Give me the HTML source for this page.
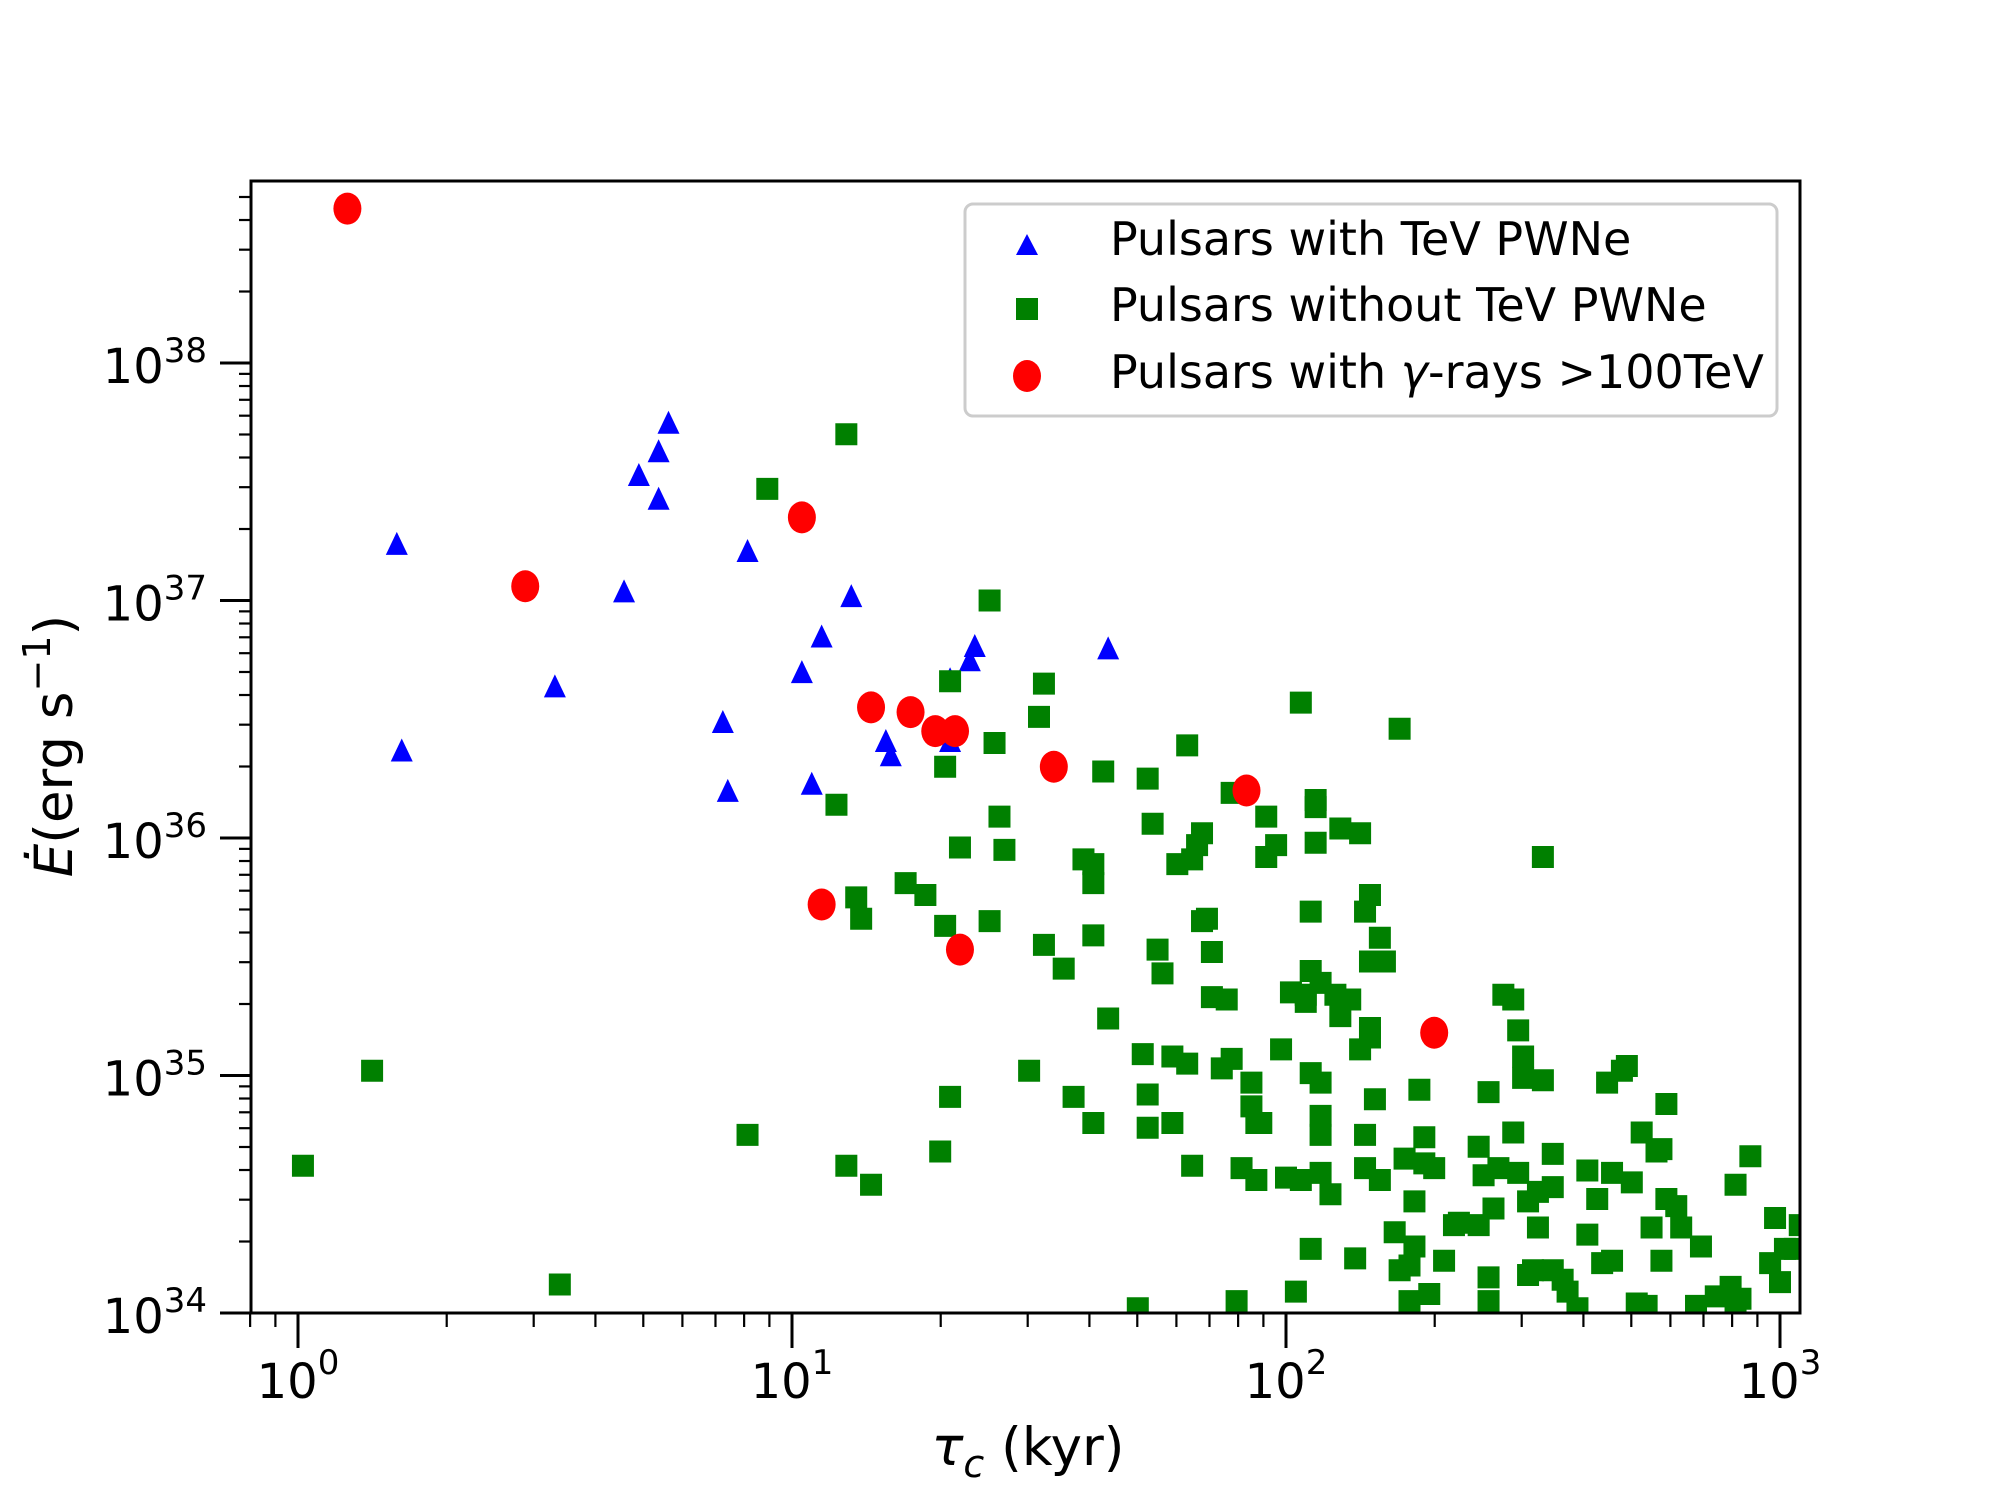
<!DOCTYPE html>
<html><head><meta charset="utf-8"><style>
html,body{margin:0;padding:0;background:#fff;}
svg{display:block;font-family:"DejaVu Sans","Liberation Sans",sans-serif;}
</style></head><body>
<svg id="chart" width="2000" height="1500" viewBox="0 0 2000 1500" xmlns="http://www.w3.org/2000/svg">
<rect width="2000" height="1500" fill="#fff"/>
<g id="ticks"></g>
<g id="marks"></g>
<rect x="251" y="181" width="1549" height="1132" fill="none" stroke="#000" stroke-width="3"/>
<g>
<rect x="965" y="204" width="812" height="212" rx="8" fill="#fff" fill-opacity="0.8" stroke="#ccc" stroke-width="3"/>
<polygon points="1027,234 1016,255 1038,255" fill="#0000ff"/>
<text x="1110" y="255" font-size="46">Pulsars with TeV PWNe</text>
<rect x="1016" y="298" width="22" height="22" fill="#008000"/>
<text x="1110" y="321" font-size="46">Pulsars without TeV PWNe</text>
<ellipse cx="1027" cy="376" rx="14" ry="16" fill="#ff0000"/>
<text x="1110" y="388" font-size="46">Pulsars with <tspan font-style="italic">γ</tspan>-rays &gt;100TeV</text>
</g>
<text x="1028" y="1465" font-size="53" text-anchor="middle"><tspan font-style="italic">τ</tspan><tspan font-style="italic" font-size="38" dy="12">c</tspan><tspan dy="-12"> (kyr)</tspan></text>
<text transform="translate(72,746) rotate(-90)" font-size="53" text-anchor="middle"><tspan font-style="italic">Ė</tspan>(erg s<tspan font-size="38" dy="-22">−1</tspan><tspan dy="22">)</tspan></text>
</svg>
<script>
// Data (log10 values)
const redLogTau  = [0.10,0.46,1.02,1.16,1.24,1.29,1.33,1.53,1.92,1.06,1.34,2.30];
const redLogEdot = [38.65,37.06,37.35,36.55,36.53,36.45,36.45,36.30,36.20,35.72,35.53,35.18];
const blueLogTau  = [0.10,0.20,0.21,0.46,0.52,0.66,0.69,0.73,0.73,0.75,0.86,0.87,0.91,1.02,1.04,1.06,1.12,1.19,1.20,1.32,1.32,1.36,1.37,1.64,1.02,1.16,1.24,1.29,1.33];
const blueLogEdot = [38.65,37.23,36.36,37.06,36.63,37.03,37.52,37.62,37.42,37.74,36.48,36.19,37.20,36.69,36.22,36.84,37.01,36.40,36.34,36.66,36.40,36.74,36.80,36.79,37.35,36.55,36.53,36.45,36.45];
const greenLogTau = [0.01,0.15,0.53,0.91,0.95,1.09,1.11,1.13,1.14,1.11,1.16,1.23,1.27,1.31,1.32,1.31,1.34,1.30,1.32,1.40,1.41,1.42,1.43,1.40,1.48,1.50,1.51,1.51,1.55,1.57,1.59,1.61,1.61,1.61,1.61,1.63,1.64,1.70,1.71,1.72,1.72,1.72,1.73,1.74,1.75,1.77,1.77,1.78,1.80,1.80,1.81,1.81,1.82,1.83,1.83,1.84,1.85,1.85,1.87,1.89,1.88,1.89,1.91,1.90,1.93,1.93,1.94,1.94,1.95,1.96,1.96,1.98,1.99,2.00,2.01,2.02,2.03,2.03,2.04,2.04,2.05,2.05,2.05,2.06,2.06,2.06,2.07,2.07,2.07,2.07,2.07,2.05,2.09,2.11,2.11,2.10,2.13,2.14,2.15,2.15,2.16,2.16,2.17,2.16,2.17,2.17,2.17,2.18,2.19,2.19,2.20,2.20,2.22,2.23,2.23,2.24,2.25,2.25,2.26,2.26,2.27,2.28,2.28,2.29,2.30,2.32,2.34,2.35,2.39,2.39,2.40,2.41,2.41,2.41,2.42,2.43,2.44,2.46,2.46,2.47,2.48,2.47,2.48,2.49,2.49,2.51,2.50,2.51,2.52,2.54,2.54,2.54,2.56,2.57,2.59,2.61,2.61,2.63,2.64,2.65,2.66,2.66,2.68,2.69,2.70,2.71,2.72,2.73,2.74,2.75,2.76,2.76,2.77,2.77,2.79,2.80,2.83,2.84,2.87,2.90,2.91,2.92,2.91,2.94,2.99,2.98,3.00,3.01,3.03,3.04,2.52];
const greenLogEdot = [34.62,35.02,34.12,34.75,37.47,36.14,37.70,35.75,35.66,34.62,34.54,35.81,35.76,35.63,36.66,36.30,35.96,34.68,34.91,37.00,36.40,36.09,35.95,35.65,35.02,36.51,36.65,35.55,35.45,34.91,35.91,35.89,35.81,34.80,35.59,36.28,35.24,34.02,35.09,36.25,34.92,34.78,36.06,35.53,35.43,34.80,35.08,35.89,35.05,36.39,35.91,34.62,35.97,36.02,35.65,35.66,35.52,35.33,35.03,35.07,35.32,36.19,34.61,34.05,34.87,34.97,34.56,34.80,34.80,36.09,35.92,35.97,35.11,34.57,35.35,34.09,36.57,34.56,35.34,35.31,35.69,35.44,35.01,36.16,36.13,35.98,35.39,34.97,34.83,34.75,34.59,34.27,34.50,36.04,35.25,35.34,35.32,34.23,35.11,36.02,34.75,34.61,35.76,35.69,35.48,35.16,35.20,34.90,34.56,35.58,35.48,35.48,34.34,34.18,36.46,34.65,34.20,34.05,34.28,34.47,34.94,34.74,34.63,34.08,34.61,34.22,34.37,34.38,34.70,34.37,34.58,34.05,34.15,34.93,34.44,34.61,35.34,35.32,34.76,35.19,35.08,34.59,34.99,34.47,34.16,34.51,34.18,34.36,34.98,34.67,34.53,34.18,34.14,34.09,34.02,34.60,34.33,34.48,34.21,34.97,34.22,34.59,35.02,35.04,34.55,34.04,34.76,34.03,34.36,34.68,34.69,34.22,34.48,34.88,34.45,34.36,34.03,34.28,34.07,34.11,34.03,34.06,34.54,34.66,34.40,34.21,34.13,34.27,34.27,34.37,35.92];
const xTickExps = [0,1,2,3];
const yTickExps = [34,35,36,37,38];

const NS='http://www.w3.org/2000/svg';
const X0=298, XDEC=494, Y34=1313, YDEC=237.5;
const PL=251, PR=1800, PT=181, PB=1313;
function sx(l){return X0+XDEC*l;}
function sy(l){return Y34-YDEC*(l-34);}
function mk(tag,attrs,parent){const e=document.createElementNS(NS,tag);for(const k in attrs)e.setAttribute(k,attrs[k]);parent.appendChild(e);return e;}
const ticks=document.getElementById('ticks');
const marks=document.getElementById('marks');
for(let d=-1;d<=3;d++){for(let m=1;m<10;m++){
  const l=d+Math.log10(m); const x=sx(l); if(x<PL-1||x>PR+1)continue;
  const major=m===1;
  const t=mk('line',{x1:x,x2:x,y1:PB,y2:PB+(major?35:14),stroke:'#000','stroke-width':major?3:2.2},ticks);
  
  
}}
xTickExps.forEach(e=>{
  const t=mk('text',{x:sx(e),y:1398,'font-size':48,'text-anchor':'middle'},ticks);
  
  
  t.innerHTML='10<tspan font-size="34" dy="-24">'+e+'</tspan>';
});
for(let d=34;d<=38;d++){for(let m=1;m<10;m++){
  const l=d+Math.log10(m); const y=sy(l); if(y<PT-1||y>PB+1)continue;
  const major=m===1;
  const t=mk('line',{x1:PL-(major?31:12),x2:PL,y1:y,y2:y,stroke:'#000','stroke-width':major?3:2.2},ticks);
  
  
}}
yTickExps.forEach(e=>{
  const t=mk('text',{x:207,y:sy(e)+20,'font-size':48,'text-anchor':'end'},ticks);
  
  
  t.innerHTML='10<tspan font-size="34" dy="-21">'+e+'</tspan>';
});
blueLogTau.forEach((lt,i)=>{
  const x=sx(lt), y=sy(blueLogEdot[i]);
  const p=mk('polygon',{points:`${x},${y-14} ${x-11},${y+9} ${x+11},${y+9}`,fill:'#0000ff'},marks);
  
  
});
greenLogTau.forEach((lt,i)=>{
  const x=sx(lt), y=sy(greenLogEdot[i]);
  const r=mk('rect',{x:x-11,y:y-11,width:22,height:22,fill:'#008000'},marks);
  
  
});
redLogTau.forEach((lt,i)=>{
  const x=sx(lt), y=sy(redLogEdot[i]);
  const c=mk('ellipse',{cx:x,cy:y,rx:14,ry:16,fill:'#ff0000'},marks);
  
  
});
const cp=mk('clipPath',{id:'clip'},document.getElementById('chart'));
mk('rect',{x:PL,y:PT,width:PR-PL,height:PB-PT},cp);
marks.setAttribute('clip-path','url(#clip)');
</script>
</body></html>
